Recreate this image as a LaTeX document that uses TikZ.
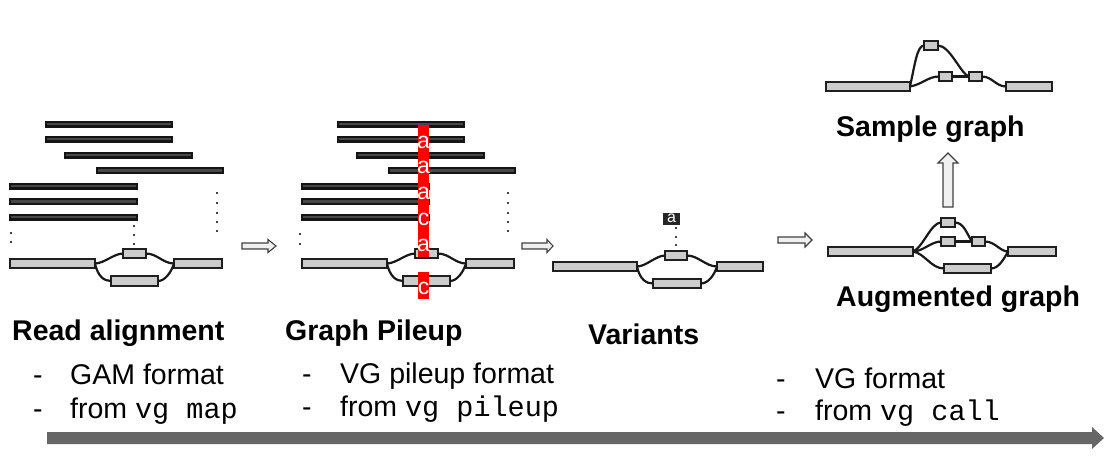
\documentclass[tikz,border=0pt]{standalone}
\usepackage{fontspec}
\setmainfont{Liberation Sans}
\setmonofont{Liberation Mono}
\tikzset{
  seg/.style={draw=black!88, fill=black!20, line width=2.1pt, inner sep=0pt, outer sep=0pt},
  rd/.style={draw=black!92, fill=black!72, line width=2.1pt, inner sep=0pt, outer sep=0pt},
  edge/.style={draw=black!90, line width=2.2pt},
  hol/.style={draw=black!75, fill=black!6, line width=1.1pt, line join=miter},
  lab/.style={font=\fontsize{28.5}{32}\selectfont\bfseries, anchor=base west, inner sep=0pt},
  txt/.style={font=\fontsize{28.5}{32}\selectfont, anchor=base west, inner sep=0pt},
  letr/.style={font=\fontsize{23}{24}\selectfont, text=white, anchor=base, inner sep=0pt},
  dotm/.style={fill=black}
}
\newcommand\bx[6]{\node[#6, minimum width={#4-#2-2.1}, minimum height={#5-#3-2.1}] (#1) at ({(#2+#4)/2},{(#3+#5)/2}) {};}
\newcommand\dt[2]{\fill[dotm] (#1,#2) circle (1.2);}
\begin{document}
\begin{tikzpicture}[x=1pt,y=-1pt]
\useasboundingbox (0,0) rectangle (1110,459);

% ---------- Panel 1: Read alignment ----------
\bx{ra1}{45}{120.5}{173}{127.5}{rd}
\bx{ra2}{45}{135.5}{173}{142.5}{rd}
\bx{ra3}{64}{151.5}{193}{158.5}{rd}
\bx{ra4}{96}{167}{224}{174}{rd}
\bx{ra5}{9}{182.5}{138}{189.5}{rd}
\bx{ra6}{9}{198}{138}{205}{rd}
\bx{ra7}{9}{213.5}{138}{220.5}{rd}
\dt{11}{233}\dt{11}{242}
\dt{134}{226}\dt{134}{235}\dt{134}{244}
\dt{217}{193}\dt{217}{203}\dt{217}{213}\dt{217}{222}\dt{217}{231}
\bx{L1}{9}{258}{96}{269}{seg}
\bx{T1}{122}{248}{147}{259}{seg}
\bx{B1}{110}{275}{159}{287}{seg}
\bx{R1}{173}{258}{223}{269}{seg}
\draw[edge] (L1.east) .. controls +(9,0) and +(-9,0) .. (T1.west);
\draw[edge] (L1.east) .. controls +(3,13) and +(-7,0) .. (B1.west);
\draw[edge] (T1.east) .. controls +(11,0) and +(-11,0) .. (R1.west);
\draw[edge] (B1.east) .. controls +(7,0) and +(-3,9) .. (R1.west);

% ---------- Panel 2: Graph pileup ----------
\bx{rb1}{337}{120.5}{465}{127.5}{rd}
\bx{rb2}{337}{135.5}{465}{142.5}{rd}
\bx{rb3}{356}{151.5}{485}{158.5}{rd}
\bx{rb4}{388}{167}{516}{174}{rd}
\bx{rb5}{301}{182.5}{430}{189.5}{rd}
\bx{rb6}{301}{198}{430}{205}{rd}
\bx{rb7}{301}{213.5}{430}{220.5}{rd}
\dt{300}{234}\dt{300}{244}
\dt{508}{193}\dt{508}{203}\dt{508}{213}\dt{508}{222}\dt{508}{231}
\bx{L2}{301}{258}{388}{269}{seg}
\bx{T2}{414}{248}{439}{259}{seg}
\bx{B2}{402}{275}{451}{287}{seg}
\bx{R2}{465}{258}{515}{269}{seg}
\draw[edge] (L2.east) .. controls +(9,0) and +(-9,0) .. (T2.west);
\draw[edge] (L2.east) .. controls +(3,13) and +(-7,0) .. (B2.west);
\draw[edge] (T2.east) .. controls +(11,0) and +(-11,0) .. (R2.west);
\draw[edge] (B2.east) .. controls +(7,0) and +(-3,9) .. (R2.west);
\fill[red] (418,125) rectangle (429,257);
\fill[red] (418,272) rectangle (429,299);
\node[letr] (p1) at (423.5,148) {a};
\node[letr] (p2) at (423.5,173) {a};
\node[letr] (p3) at (423.5,199) {a};
\node[letr] (p4) at (423.5,225) {c};
\node[letr] (p5) at (423.5,251) {a};
\node[letr] (p6) at (423.5,294) {c};

% ---------- Panel 3: Variants ----------
\bx{L3}{552}{261}{638}{272}{seg}
\bx{T3}{664}{250}{688}{261}{seg}
\bx{B3}{652}{278}{702}{289}{seg}
\bx{R3}{716}{261}{764}{272}{seg}
\draw[edge] (L3.east) .. controls +(9,0) and +(-9,0) .. (T3.west);
\draw[edge] (L3.east) .. controls +(3,13) and +(-7,0) .. (B3.west);
\draw[edge] (T3.east) .. controls +(11,0) and +(-11,0) .. (R3.west);
\draw[edge] (B3.east) .. controls +(7,0) and +(-3,9) .. (R3.west);
\node[fill=black!85, text=white, minimum width=17, minimum height=12, inner sep=0pt,
      font=\fontsize{16}{16}\selectfont] (va) at (671.5,218.5) {a};
\dt{676}{228}\dt{676}{237}\dt{676}{245}

% ---------- Panel 4: Augmented graph ----------
\bx{L4}{827}{246}{914}{257}{seg}
\bx{T4}{940}{217}{956}{228}{seg}
\bx{M4a}{940}{236}{956}{247}{seg}
\bx{M4b}{971}{236}{986}{247}{seg}
\bx{B4}{943}{263}{992}{274}{seg}
\bx{R4}{1007}{246}{1057}{257}{seg}
\draw[edge] (L4.east) .. controls +(10,-4) and +(-10,0) .. (T4.west);
\draw[edge] (L4.east) .. controls +(10,0) and +(-10,0) .. (M4a.west);
\draw[edge] (L4.east) .. controls +(12,2) and +(-13,0) .. (B4.west);
\draw[edge] (T4.east) .. controls +(9,0) and +(-5,-7) .. (M4b.west);
\draw[edge] (M4a.east) -- (M4b.west);
\draw[edge] (M4b.east) .. controls +(10,0) and +(-8,0) .. (R4.west);
\draw[edge] (B4.east) .. controls +(8,0) and +(-4,7) .. (R4.west);

% up arrow
\draw[hol] (943,207) -- (943,163) -- (938,163) -- (948,153) -- (958,163) -- (953,163) -- (953,207) -- cycle;

% ---------- Sample graph ----------
\bx{L5}{825}{81}{911}{92}{seg}
\bx{T5}{923}{40}{939}{51}{seg}
\bx{M5a}{938}{71}{953}{82}{seg}
\bx{M5b}{968}{71}{983}{82}{seg}
\bx{R5}{1005}{81}{1053}{92}{seg}
\draw[edge] (L5.east) .. controls +(5,-22) and +(-7,0) .. (T5.west);
\draw[edge] (L5.east) .. controls +(12,-2) and +(-11,0) .. (M5a.west);
\draw[edge] (T5.east) .. controls +(12,0) and +(-8,-2) .. (M5b.west);
\draw[edge] (M5a.east) -- (M5b.west);
\draw[edge] (M5b.east) .. controls +(10,0) and +(-10,0) .. (R5.west);

% ---------- small hollow arrows ----------
\draw[hol] (242,243) -- (268,243) -- (268,239.5) -- (276,246) -- (268,252.5) -- (268,249) -- (242,249) -- cycle;
\draw[hol] (522,243) -- (547,243) -- (547,239.5) -- (553,246) -- (547,252.5) -- (547,249) -- (522,249) -- cycle;
\draw[hol] (778,237) -- (805,237) -- (805,233) -- (812,240) -- (805,247) -- (805,243) -- (778,243) -- cycle;

% ---------- labels ----------
\node[lab] (t1) at (12,340) {Read alignment};
\node[lab] (t2) at (285,340) {Graph Pileup};
\node[lab] (t3) at (588,344) {Variants};
\node[lab] (t4) at (836,306) {Augmented graph};
\node[lab] (t5) at (836,136) {Sample graph};

\node[txt] (d11) at (33,384) {-};
\node[txt] (d12) at (33,418) {-};
\node[txt] (s11) at (70,384) {GAM format};
\node[txt] (s12) at (70,418) {from \texttt{vg map}};

\node[txt] (d21) at (302,383) {-};
\node[txt] (d22) at (302,416) {-};
\node[txt] (s21) at (340,383) {VG pileup format};
\node[txt] (s22) at (340,416) {from \texttt{vg pileup}};

\node[txt] (d41) at (776,388) {-};
\node[txt] (d42) at (776,420) {-};
\node[txt] (s41) at (815,388) {VG format};
\node[txt] (s42) at (815,420) {from \texttt{vg call}};

% ---------- timeline arrow ----------
\fill[black!60] (47,432) -- (1092,432) -- (1092,427) -- (1104,438) -- (1092,449) -- (1092,444) -- (47,444) -- cycle;
\end{tikzpicture}
\end{document}
